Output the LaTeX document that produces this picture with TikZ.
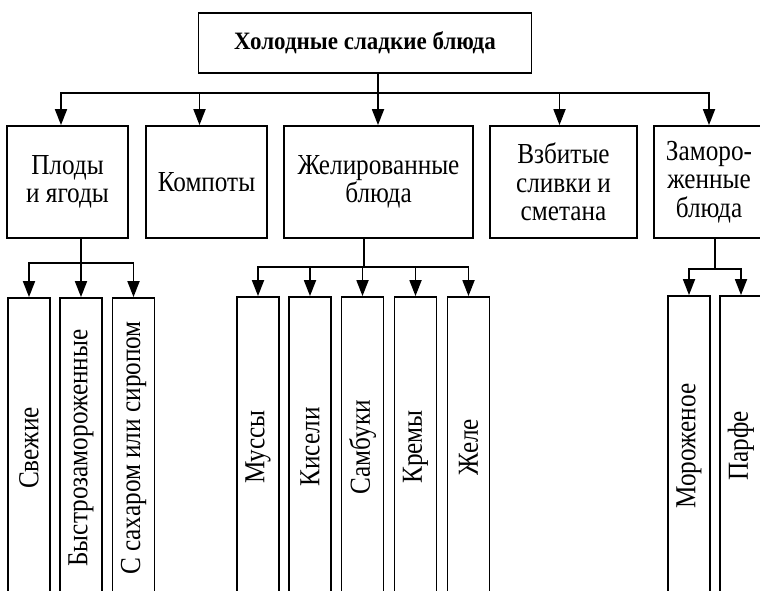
\documentclass[tikz,border=0pt]{standalone}
\usepackage{fontspec}
\setmainfont{Liberation Serif}[FakeStretch=0.87]
\newfontfamily\titrefont{Liberation Serif}[FakeStretch=0.92]
\usetikzlibrary{arrows.meta}
\def\largeur{760}
\def\hauteur{591}

\begin{document}
\begin{tikzpicture}[x=1pt, y=1pt, line width=1.8pt,
	box/.style={draw, align=center, inner sep=0pt, minimum height=112pt, font=\fontsize{29}{28.5}\selectfont},
	vbox/.style={draw, rotate=90, inner sep=0pt, minimum width=300pt, minimum height=42pt, font=\fontsize{29}{28}\selectfont},
	arr/.style={-{Triangle[width=12pt,length=16pt]}}]
	\useasboundingbox (0,0) rectangle (\largeur,-\hauteur);
	\clip (0,0) rectangle (\largeur,-\hauteur);
	% niveau 1
	\node[box, minimum width=333pt, minimum height=60pt, font=\titrefont\bfseries\fontsize{25}{24}\selectfont] (titre) at (365,-43) {Холодные сладкие блюда};
	% niveau 2
	\node[box, minimum width=121pt] (plody) at (67.5,-182) {Плоды\\и ягоды};
	\node[box, minimum width=121pt] (kompoty) at (206.5,-182) {Компоты};
	\node[box, minimum width=189pt] (zhel) at (378.5,-182) {Желированные\\блюда};
	\node[box, minimum width=147pt] (vzbit) at (563.5,-182) {Взбитые\\сливки и\\сметана};
	\node[box, minimum width=110pt] (zamor) at (709,-182) {Заморо-\\женные\\блюда};
	% niveau 3
	\node[vbox] (svezh) at (29,-448) {Свежие};
	\node[vbox] (bystro) at (81,-448) {Быстрозамороженные};
	\node[vbox] (sakhar) at (133.5,-448) {С сахаром или сиропом};
	\node[vbox] (mussy) at (258,-447) {Муссы};
	\node[vbox] (kiseli) at (310,-447) {Кисели};
	\node[vbox] (sambuki) at (362.5,-447) {Самбуки};
	\node[vbox] (kremy) at (415.5,-447) {Кремы};
	\node[vbox] (zhele) at (468.5,-447) {Желе};
	\node[vbox] (morozh) at (689,-446) {Мороженое};
	\node[vbox] (parfe) at (741,-446) {Парфе};
	% fleches
	\coordinate (b1) at (378,-93);
	\draw (titre.south -| b1) -- (b1);
	\draw[arr] (b1) -| ([xshift=-6.5pt]plody.north);
	\draw[arr] (b1) -| ([xshift=-7pt]kompoty.north);
	\draw[arr] (b1) -- (zhel.north -| b1);
	\draw[arr] (b1) -| ([xshift=-4pt]vzbit.north);
	\draw[arr] (b1) -| (zamor.north);
	\coordinate (b2) at (81,-263);
	\draw (plody.south -| b2) -- (b2);
	\foreach \n in {svezh,bystro,sakhar} \draw[arr] (b2) -| (\n.east);
	\coordinate (b3) at (364,-267);
	\draw (zhel.south -| b3) -- (b3);
	\foreach \n in {mussy,kiseli,sambuki,kremy,zhele} \draw[arr] (b3) -| (\n.east);
	\coordinate (b4) at (715,-269);
	\draw (zamor.south -| b4) -- (b4);
	\foreach \n in {morozh,parfe} \draw[arr] (b4) -| (\n.east);
\end{tikzpicture}
\end{document}
